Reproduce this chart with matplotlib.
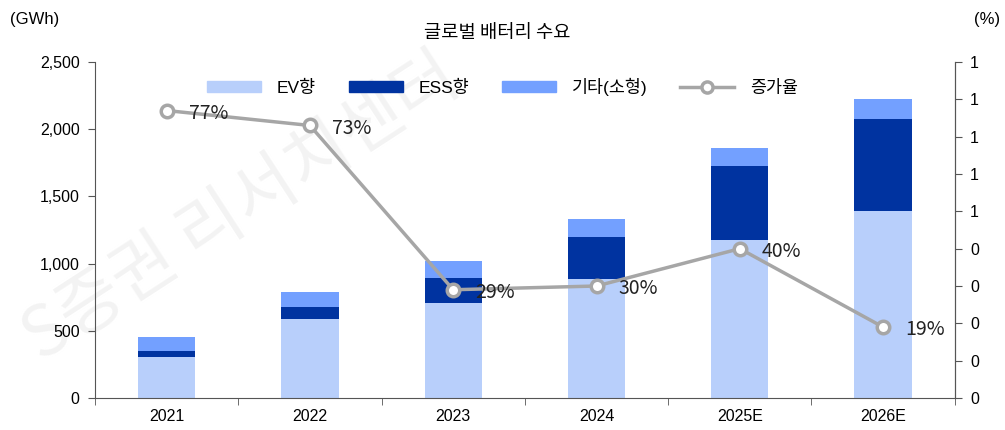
import numpy as np
import matplotlib.pyplot as plt
from matplotlib.patches import Patch
from matplotlib.lines import Line2D

plt.rcParams['font.family'] = ['Liberation Sans', 'Noto Sans CJK KR']

years = ['2021', '2022', '2023', '2024', '2025E', '2026E']
ev = [303, 586, 709, 888, 1173, 1389]
ess = [44, 91, 184, 312, 556, 687]
other = [107, 112, 126, 130, 134, 146]
growth = [0.77, 0.73, 0.29, 0.30, 0.40, 0.19]
growth_labels = ['77%', '73%', '29%', '30%', '40%', '19%']
right_ticks = [0, 0.1, 0.2, 0.3, 0.4, 0.5, 0.6, 0.7, 0.8, 0.9]
right_tick_labels = ['0', '0', '0', '0', '0', '1', '1', '1', '1', '1']

c_ev = '#B8CFFB'
c_ess = '#0033A0'
c_other = '#73A0FF'
c_line = '#A6A6A6'

fig = plt.figure(figsize=(10.05, 4.3), dpi=100)
ax = fig.add_axes([0.0945, 0.0744, 0.8555, 0.7814])

x = np.arange(len(years))
w = 0.4
ax.bar(x, ev, w, color=c_ev, zorder=2)
ax.bar(x, ess, w, bottom=ev, color=c_ess, zorder=2)
ax.bar(x, other, w, bottom=np.array(ev) + np.array(ess), color=c_other, zorder=2)

ax.set_xlim(-0.5, len(years) - 0.5)
ax.set_ylim(0, 2500)
ax.set_yticks(range(0, 2501, 500))
ax.set_yticklabels([f'{v:,}' for v in range(0, 2501, 500)])
ax.set_xticks(x)
ax.set_xticklabels(years)
ax.set_xticks(np.arange(-0.5, len(years), 1), minor=True)
ax.tick_params(axis='x', which='major', length=0, pad=8, labelsize=11.5)
ax.tick_params(axis='x', which='minor', length=5, color='#555555')
ax.tick_params(axis='y', length=5, color='#555555', labelsize=11.5, pad=6)
ax.spines['top'].set_visible(False)
for s in ['left', 'bottom', 'right']:
    ax.spines[s].set_color('#555555')

# watermark
ax.text(0.17, 0.565, 'S증권 리서치센터', transform=ax.transAxes, fontsize=50,
        color='#F3F3F3', rotation=33, ha='center', va='center', zorder=0,
        family=['Noto Sans CJK KR'], clip_on=False)

ax2 = ax.twinx()
ax2.plot(x, growth, color=c_line, lw=2.5, marker='o', markersize=9,
         markerfacecolor='white', markeredgecolor=c_line, markeredgewidth=2.5, zorder=3)
for xi, gi, lab in zip(x, growth, growth_labels):
    ax2.annotate(lab, (xi, gi), xytext=(16, -2), textcoords='offset points',
                 fontsize=14, va='center', ha='left', color='#222222',
                 family=['Noto Sans CJK KR'], zorder=4)
ax2.set_ylim(0, 0.9)
ax2.set_yticks(right_ticks)
ax2.set_yticklabels(right_tick_labels)
ax2.tick_params(axis='y', length=5, color='#555555', labelsize=11.5, pad=6)
ax2.spines['top'].set_visible(False)
ax2.spines['right'].set_color('#555555')
ax2.spines['left'].set_visible(False)
ax2.spines['bottom'].set_visible(False)

handles = [Patch(color=c_ev), Patch(color=c_ess), Patch(color=c_other),
           Line2D([], [], color=c_line, lw=2.5, marker='o', markersize=8,
                  markerfacecolor='white', markeredgewidth=2.5)]
labels = ['EV향', 'ESS향', '기타(소형)', '증가율']
ax2.legend(handles, labels, loc='upper center', bbox_to_anchor=(0.474, 1.0), ncol=4,
           frameon=False, fontsize=12.5, handlelength=3.1, handleheight=0.55,
           columnspacing=1.9, handletextpad=0.9)

fig.text(0.495, 0.925, '글로벌 배터리 수요', ha='center', va='center', fontsize=13.5,
         family=['Noto Sans CJK KR'])
fig.text(0.01, 0.955, '(GWh)', ha='left', va='center', fontsize=12)
fig.text(0.995, 0.955, '(%)', ha='right', va='center', fontsize=12)

fig.savefig('out.png', dpi=100)
